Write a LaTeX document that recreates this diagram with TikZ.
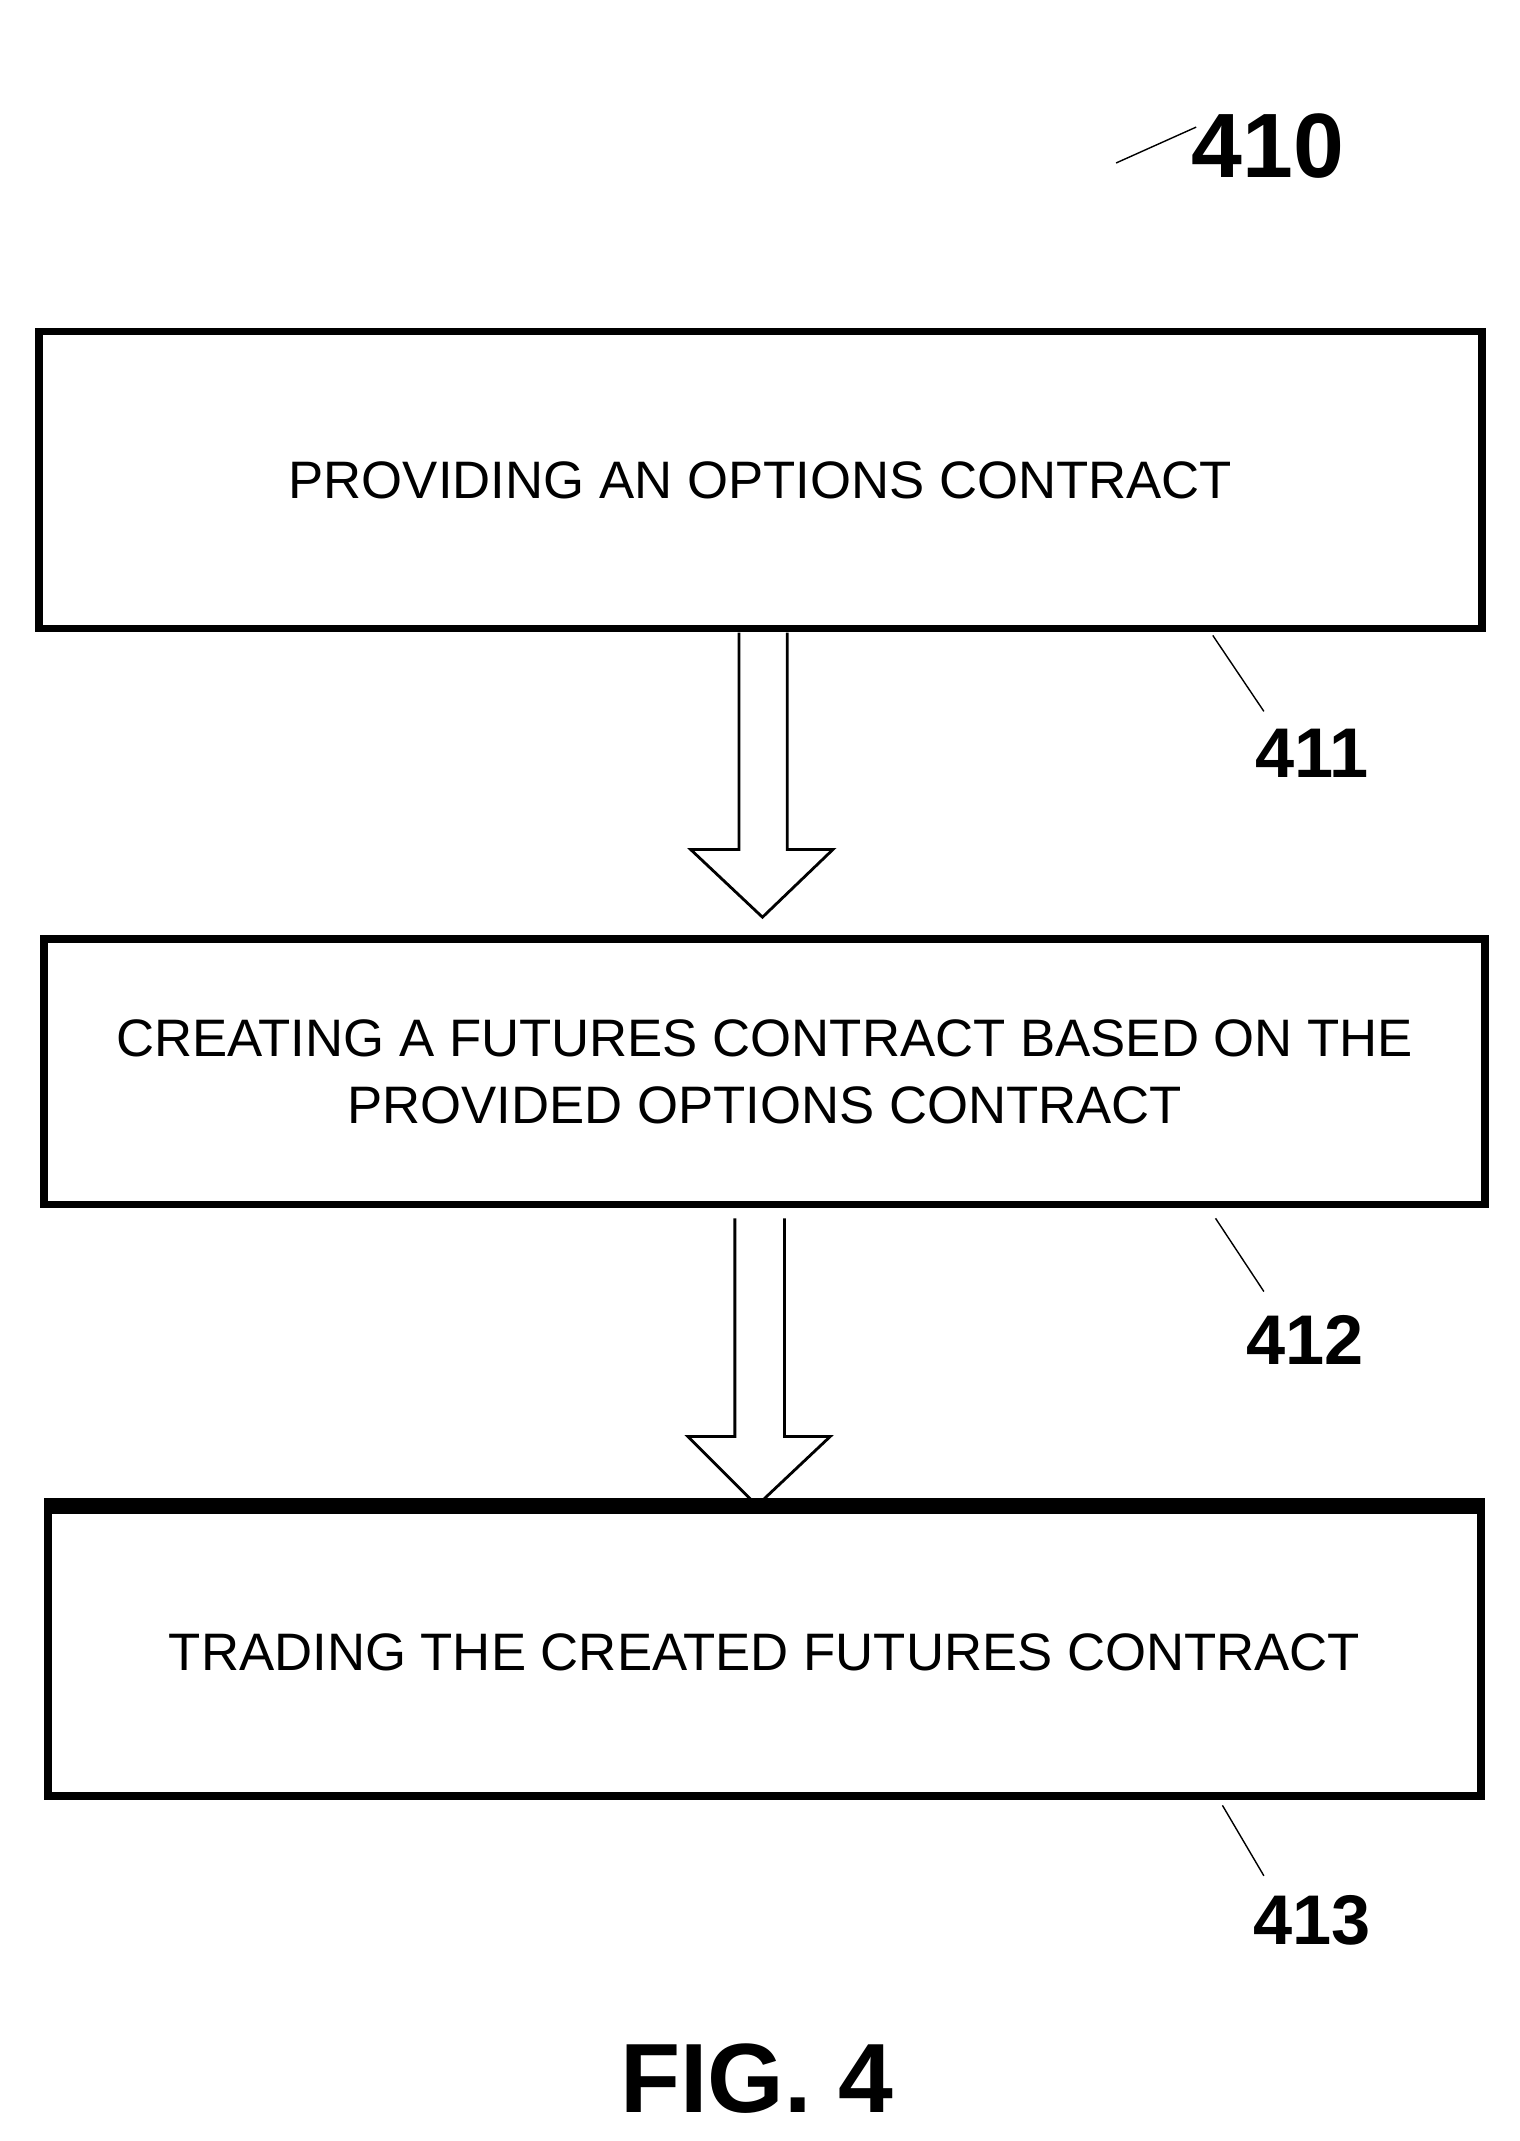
\documentclass[tikz,border=0pt]{standalone}
\usepackage{fontspec}
\setmainfont{Liberation Sans}
\begin{document}
\begin{tikzpicture}[x=0.01381cm,y=-0.01381cm,
  stepbox/.style={draw,line width=2.2pt,align=center,font=\fontsize{15}{19}\selectfont},
  refnum/.style={font=\bfseries\fontsize{20}{22}\selectfont},
  hollow/.style={line width=0.8pt}]
 \useasboundingbox (0,0) rectangle (1100,1550);

 \node[stepbox,minimum width=14.43cm,minimum height=2.97cm] (b1) at (550.5,347.5) {PROVIDING AN OPTIONS CONTRACT};
 \node[stepbox,minimum width=14.40cm,minimum height=2.65cm] (b2) at (553.5,776) {CREATING A FUTURES CONTRACT BASED ON THE\\PROVIDED OPTIONS CONTRACT};
 \node[stepbox,minimum width=14.32cm,minimum height=2.86cm] (b3) at (553.5,1196.5) {TRADING THE CREATED FUTURES CONTRACT};
 \draw[line width=4.5pt] (b3.north west) -- (b3.north east);

 % hollow arrows
 \draw[hollow] (535,458) -- (535,615) -- (500,615) -- (552,664) -- (603,615) -- (570,615) -- (570,458);
 \draw[hollow] (532,882) -- (532,1040) -- (498,1040) -- (548,1090) -- (601,1040) -- (568,1040) -- (568,882);

 \node[refnum,font=\bfseries\fontsize{26}{28}\selectfont] (n410) at (918,106) {410};
 \node[refnum] (n411) at (950,545) {411};
 \node[refnum] (n412) at (945,970) {412};
 \node[refnum] (n413) at (950,1390) {413};
 \coordinate (c410a) at (808,118); \coordinate (c410b) at (866,92);
 \coordinate (c411a) at (878,460); \coordinate (c411b) at (915,515);
 \coordinate (c412a) at (880,882); \coordinate (c412b) at (915,935);
 \coordinate (c413a) at (885,1307); \coordinate (c413b) at (915,1358);
 \draw (c410a) -- (c410b);
 \draw (c411a) -- (c411b);
 \draw (c412a) -- (c412b);
 \draw (c413a) -- (c413b);

 \node[font=\bfseries\fontsize{28}{30}\selectfont] (fig) at (548,1505) {FIG. 4};
\end{tikzpicture}
\end{document}
